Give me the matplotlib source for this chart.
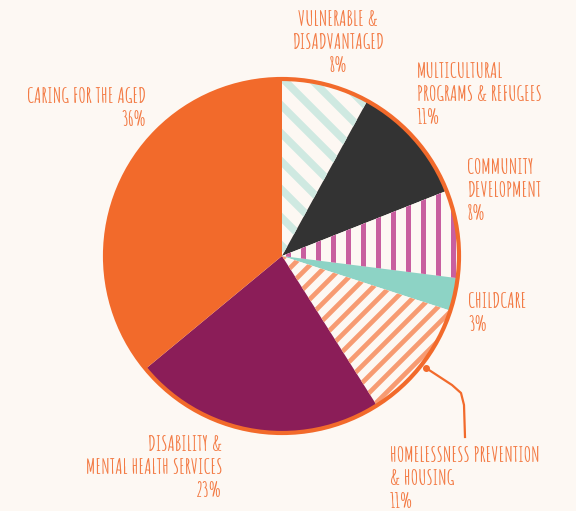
import numpy as np
import matplotlib.pyplot as plt
from matplotlib.patches import Circle

plt.rcParams['font.family'] = ['Amatic SC', 'DejaVu Sans']

# Data (clockwise from 12 o'clock)
categories = ['VULNERABLE &\nDISADVANTAGED', 'MULTICULTURAL\nPROGRAMS & REFUGEES',
              'COMMUNITY\nDEVELOPMENT', 'CHILDCARE',
              'HOMELESSNESS PREVENTION\n& HOUSING', 'DISABILITY &\nMENTAL HEALTH SERVICES',
              'CARING FOR THE AGED']
shares = [8, 11, 8, 3, 11, 23, 36]

bg = '#fdf8f3'
orange = '#f26a2b'
text_col = '#f37b45'
fills = [bg, '#333333', bg, '#8dd3c5', bg, '#8b1d58', orange]

W, H = 576, 511
fig = plt.figure(figsize=(5.76, 5.11), dpi=100, facecolor=bg)
ax = fig.add_axes([0, 0, 1, 1])
ax.axis('off')

cx, cy, r = 282, H - 256, 177
wedges, _ = ax.pie(shares, colors=fills, startangle=90, counterclock=False,
                   center=(cx, cy), radius=r, wedgeprops=dict(linewidth=0))
ax.set_xlim(0, W)
ax.set_ylim(0, H)


def stripes(wedge, kind, spacing, lw, color):
    for c in np.arange(-2 * r, 2 * r, spacing):
        if kind == 'v':
            xs, ys = [cx + c, cx + c], [cy - r, cy + r]
        elif kind == 'back':
            xs, ys = [cx + c - r, cx + c + r], [cy + r, cy - r]
        else:
            xs, ys = [cx + c - r, cx + c + r], [cy - r, cy + r]
        ln, = ax.plot(xs, ys, color=color, lw=lw, solid_capstyle='butt', zorder=2)
        ln.set_clip_path(wedge)


stripes(wedges[0], 'back', 28, 5.4, '#cfe9e1')
stripes(wedges[2], 'v', 15, 3.6, '#c85f9f')
stripes(wedges[4], 'fwd', 17, 3.4, '#f79b72')

ax.add_patch(Circle((cx, cy), r, fill=False, edgecolor=orange, lw=3, zorder=3))

# labels: (x, top y in px, ha)
label_pos = [(338, 10, 'center'), (417, 62, 'left'), (467, 158, 'left'),
             (468, 292, 'left'), (390, 446, 'left'), (222, 435, 'right'),
             (146, 87, 'right')]
for name, pct, (x, y, ha) in zip(categories, shares, label_pos):
    ax.text(x, H - y, f'{name}\n{pct}%', ha=ha, va='top', multialignment=ha,
            color=text_col, fontsize=15, fontweight='bold', linespacing=1.45)

# leader line for homelessness
lx = [426, 452, 461, 464, 465]
ly = [368, 385, 393, 405, 437]
ax.plot(lx, [H - v for v in ly], color=orange, lw=1.6, zorder=4)
ax.plot(lx[0], H - ly[0], 'o', color=orange, ms=4, zorder=4)

fig.savefig('out.png', dpi=100, facecolor=bg)
